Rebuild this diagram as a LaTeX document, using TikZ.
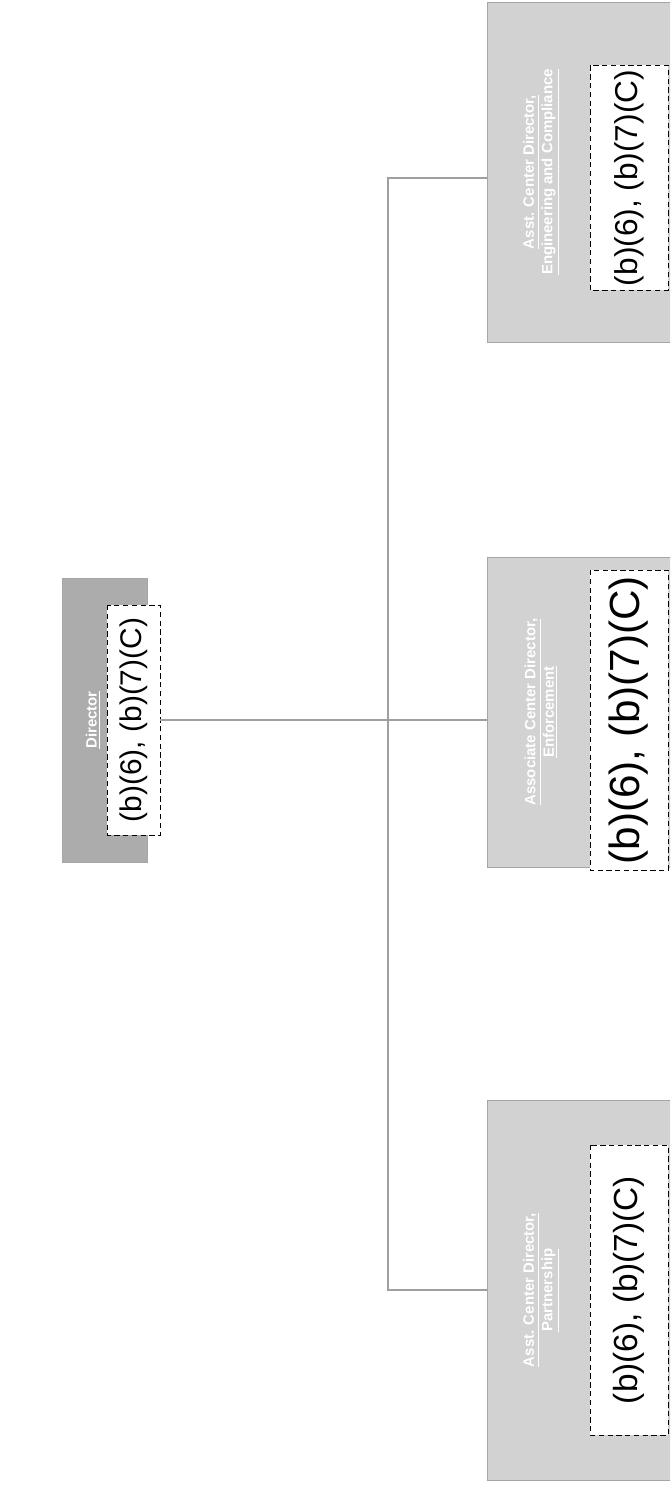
\documentclass[tikz,border=0pt]{standalone}
\usepackage{fontspec}
\setmainfont{Liberation Sans}
\usepackage{tikz}
\usetikzlibrary{positioning}

\tikzset{
	unitbox/.style={draw=gray!70, rotate=90, inner sep=0pt, minimum height=46.6mm},
	headbox/.style={unitbox, fill=gray!65, minimum height=17mm},
	codebox/.style={rotate=90, fill=white, draw=black, densely dashed, line width=0.5pt, inner sep=0pt, minimum height=15.6mm},
	titletext/.style={rotate=90, text=white, font=\fontsize{8.5}{10.5}\selectfont\bfseries, align=center},
	link/.style={draw=gray!75, line width=1pt}
}

\begin{document}
\begin{tikzpicture}[x=0.2mm, y=-0.2mm, font=\sffamily]
	\useasboundingbox (0,0) rectangle (670,1489);
	\clip (0,0) rectangle (670,1489);
	\fill[white] (0,0) rectangle (670,1489);

	\node[headbox, minimum width=56.8mm]						(dir)		at (104.5,720)	{};
	\node[titletext]											(dirtitle)	at (93,720)		{\underline{Director}};
	\node[codebox, minimum width=46mm, minimum height=10.6mm,
		font=\fontsize{17}{19}\selectfont]						(dircode)	at (133.5,720)	{(b)(6), (b)(7)(C)};

	\node[unitbox, fill=gray!35, minimum width=68mm]			(eng)		at (603.5,172)	{};
	\node[titletext]											(engtitle)	at (541,172)	{\underline{Asst. Center Director,}\\\underline{Engineering and Compliance}};
	\node[codebox, minimum width=45mm,
		font=\fontsize{18}{20}\selectfont]						(engcode)	at (629,178)	{(b)(6), (b)(7)(C)};

	\node[unitbox, fill=gray!35, minimum width=62mm]			(enf)		at (603.5,712)	{};
	\node[titletext]											(enftitle)	at (541,712)	{\underline{Associate Center Director,}\\\underline{Enforcement}};
	\node[codebox, minimum width=60mm,
		font=\fontsize{24}{26}\selectfont]						(enfcode)	at (629,720)	{(b)(6), (b)(7)(C)};

	\node[unitbox, fill=gray!35, minimum width=76mm]			(prt)		at (603.5,1290)	{};
	\node[titletext]											(prttitle)	at (541,1290)	{\underline{Asst. Center Director,}\\\underline{Partnership}};
	\node[codebox, minimum width=58mm,
		font=\fontsize{19}{21}\selectfont]						(prtcode)	at (629,1290)	{(b)(6), (b)(7)(C)};

	\coordinate (hub) at (388,720);

	\draw[link] (dircode.south)		-- (hub);
	\draw[link] (hub)				-- (enfcode -| enf.north);
	\draw[link] (hub)				|- (engcode -| eng.north);
	\draw[link] (hub)				|- (prtcode -| prt.north);
\end{tikzpicture}
\end{document}
